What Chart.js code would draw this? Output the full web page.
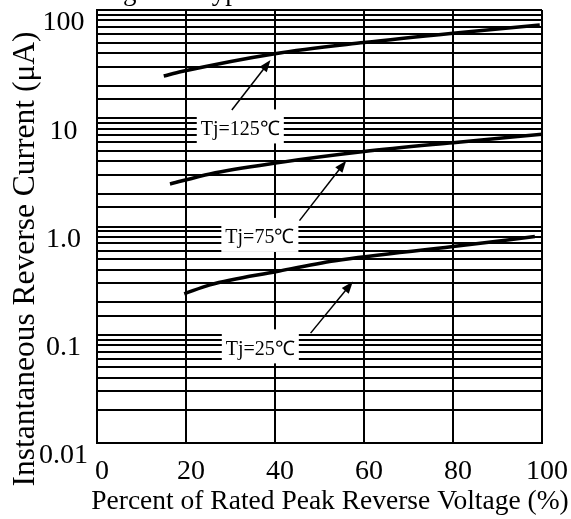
<!DOCTYPE html>
<html>
<head>
<meta charset="utf-8">
<script src="https://cdn.jsdelivr.net/npm/chart.js@4"></script>
<style>
  html, body { margin: 0; padding: 0; background: #fff; }
  #wrap { width: 571px; height: 519px; }
</style>
</head>
<body>
<div id="wrap"><canvas id="revChart" width="571" height="519"></canvas></div>
<script>
const SERIF = '"Liberation Serif", "Times New Roman", serif';

// ====== Data ======
const x125 = [15, 19, 40, 60, 80, 99.5];
const y125 = [24.6, 27, 39.5, 50, 61, 72.7];
const x75 = [16.4, 25.4, 40.5, 60, 80, 100];
const y75 = [2.47, 3.06, 3.87, 4.92, 5.95, 7.1];
const x25 = [19.6, 25.4, 40.4, 53.5, 80, 98.4];
const y25 = [0.239, 0.289, 0.384, 0.483, 0.652, 0.807];

const xTicks = [0, 20, 40, 60, 80, 100];
const yDecades = [0.01, 0.1, 1, 10, 100];
const yLabels = ["0.01", "0.1", "1.0", "10", "100"];

const noteLabels = ["Tj=125\u2103", "Tj=75\u2103", "Tj=25\u2103"];
const noteX = [32.2, 36.6, 36.7];
const noteY = [8.4, 0.836, 0.0781];
const arrowFromX = [30.3, 45.5, 48.0];
const arrowFromY = [11.9, 1.134, 0.1035];
const arrowToX = [39.0, 56.0, 57.5];
const arrowToY = [34.5, 4.06, 0.31];

const chartTitle = "Fig.2 \u2014 Typical Reverse Characteristics";
const yTitle = "Instantaneous Reverse Current (\u03bcA)";
const xTitle = "Percent of Rated Peak Reverse Voltage (%)";

const pts = (xs, ys) => xs.map((v, i) => ({ x: v, y: ys[i] }));

// ====== Labels, arrows and titles ======
const notesPlugin = {
  id: "notes",
  afterDatasetsDraw(chart) {
    const { ctx, scales: { x, y } } = chart;
    ctx.save();
    ctx.font = "20px " + SERIF;
    ctx.textAlign = "center";
    ctx.textBaseline = "middle";
    noteLabels.forEach((t, i) => {
      const cx = x.getPixelForValue(noteX[i]);
      const cy = y.getPixelForValue(noteY[i]);
      const w = ctx.measureText(t).width + 8;
      ctx.fillStyle = "#fff";
      ctx.fillRect(cx - w / 2, cy - 17, w, 34);
      ctx.fillStyle = "#000";
      ctx.fillText(t, cx, cy + 3);

      const x0 = x.getPixelForValue(arrowFromX[i]), y0 = y.getPixelForValue(arrowFromY[i]);
      const x1 = x.getPixelForValue(arrowToX[i]), y1 = y.getPixelForValue(arrowToY[i]);
      const a = Math.atan2(y1 - y0, x1 - x0);
      ctx.strokeStyle = "#000";
      ctx.lineWidth = 1.5;
      ctx.beginPath();
      ctx.moveTo(x0, y0);
      ctx.lineTo(x1 - 10 * Math.cos(a), y1 - 10 * Math.sin(a));
      ctx.stroke();
      ctx.beginPath();
      ctx.moveTo(x1, y1);
      ctx.lineTo(x1 - 12 * Math.cos(a) + 4.5 * Math.sin(a), y1 - 12 * Math.sin(a) - 4.5 * Math.cos(a));
      ctx.lineTo(x1 - 12 * Math.cos(a) - 4.5 * Math.sin(a), y1 - 12 * Math.sin(a) + 4.5 * Math.cos(a));
      ctx.closePath();
      ctx.fill();
    });

    // title sits mostly above the picture
    const area = chart.chartArea;
    ctx.font = "27px " + SERIF;
    ctx.textBaseline = "alphabetic";
    ctx.fillText(chartTitle, (area.left + area.right) / 2, 0);

    // x axis title
    ctx.font = "27.5px " + SERIF;
    ctx.textBaseline = "middle";
    ctx.fillText(xTitle, 330, 502);

    // y axis title
    ctx.font = "31.5px " + SERIF;
    ctx.textBaseline = "alphabetic";
    ctx.translate(34, 259);
    ctx.rotate(-Math.PI / 2);
    ctx.fillText(yTitle, 0, 0);
    ctx.restore();
  }
};

Chart.defaults.font.family = SERIF;
Chart.defaults.color = "#000";

new Chart(document.getElementById("revChart"), {
  type: "line",
  data: {
    datasets: [
      { label: "Tj=125", data: pts(x125, y125) },
      { label: "Tj=75", data: pts(x75, y75) },
      { label: "Tj=25", data: pts(x25, y25) }
    ]
  },
  options: {
    responsive: false,
    animation: false,
    devicePixelRatio: 1,
    layout: { padding: { top: 10, right: 29, left: 0, bottom: 0 } },
    elements: {
      line: { borderColor: "#000", borderWidth: 3.5, tension: 0.4, cubicInterpolationMode: "monotone" },
      point: { radius: 0 }
    },
    plugins: {
      legend: { display: false },
      tooltip: { enabled: false }
    },
    scales: {
      x: {
        type: "linear",
        min: 0,
        max: 100,
        afterBuildTicks: s => { s.ticks = xTicks.map(v => ({ value: v })); },
        afterFit: s => { s.height = 76; s.paddingLeft = 0; s.paddingRight = 0; },
        grid: { color: "#000", lineWidth: 2, drawTicks: false },
        border: { color: "#000", width: 2 },
        ticks: { font: { size: 28 }, padding: 12, labelOffset: 5, autoSkip: false, maxRotation: 0 }
      },
      y: {
        type: "logarithmic",
        min: 0.01,
        max: 100,
        afterFit: s => { s.width = 97; s.paddingTop = 0; s.paddingBottom = 0; },
        grid: { color: "#000", lineWidth: 2, drawTicks: false },
        border: { color: "#000", width: 2 },
        ticks: {
          font: { size: 28 },
          padding: 9,
          labelOffset: 13,
          crossAlign: "center",
          autoSkip: false,
          callback: v => {
            const k = yDecades.findIndex(d => Math.abs(v - d) < d * 1e-6);
            return k >= 0 ? yLabels[k] : "";
          }
        }
      }
    }
  },
  plugins: [notesPlugin]
});
</script>
</body>
</html>
